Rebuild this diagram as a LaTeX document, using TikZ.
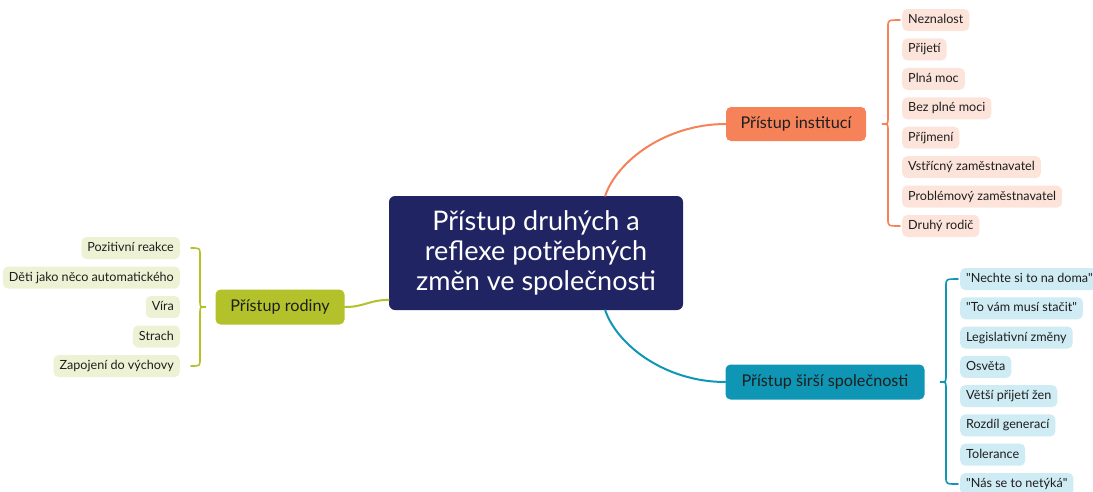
\documentclass[tikz,border=0pt]{standalone}
\usepackage{fontspec}
\setmainfont{Lato}
\usetikzlibrary{calc}
\definecolor{navy}{HTML}{202462}
\definecolor{orng}{HTML}{F6825A}
\definecolor{teal2}{HTML}{0E96B4}
\definecolor{olive}{HTML}{B3C22A}
\definecolor{lpink}{HTML}{FDE4DB}
\definecolor{lblue}{HTML}{CFEBF3}
\definecolor{lgreen}{HTML}{EEF2D5}
\definecolor{txt}{HTML}{1E1E1E}
\newcommand{\q}{\textquotedbl}
\begin{document}
\begin{tikzpicture}[x=1pt,y=-1pt,
  leaf/.style={rounded corners=5pt, inner xsep=6pt, inner ysep=0pt, minimum height=22pt,
    font=\fontsize{12.6}{14}\selectfont, text=txt, text height=9pt, text depth=2pt},
  branch/.style={rounded corners=5pt, inner sep=0pt, font=\fontsize{16.2}{19}\selectfont, text=txt,
    text height=12pt, text depth=4pt},
  conn/.style={line width=2pt, line cap=round},
  brc/.style={line width=1.6pt, line cap=round}
]
\useasboundingbox (0,0) rectangle (1093,491);
\node[fill=navy, rounded corners=6pt, minimum width=294pt, minimum height=114pt, inner sep=0pt,
  text=white, align=center, font=\fontsize{27}{30}\selectfont] (root) at (536,253)
  {Přístup druhých a\\reflexe potřebných\\změn ve společnosti};

\node[branch, fill=orng, minimum width=140pt, minimum height=34pt] (inst) at (796,124) {Přístup institucí};
\node[branch, fill=teal2, minimum width=199pt, minimum height=35pt] (soc) at (825,382) {Přístup širší společnosti};
\node[branch, fill=olive, minimum width=129pt, minimum height=35pt] (fam) at (280,307) {Přístup rodiny};

% institution leaves
\foreach \t [count=\i] in {Neznalost,Přijetí,Plná moc,Bez plné moci,Příjmení,Vstřícný zaměstnavatel,Problémový zaměstnavatel,Druhý rodič}
  \node[leaf, fill=lpink, anchor=west] (i\i) at (902,{20+(\i-1)*29.43}) {\t};
% society leaves
\foreach \t [count=\i] in {\q Nechte si to na doma\q,\q To vám musí stačit\q,Legislativní změny,Osvěta,Větší přijetí žen,Rozdíl generací,Tolerance,\q Nás se to netýká\q}
  \node[leaf, fill=lblue, anchor=west] (s\i) at (960,{279+(\i-1)*29.29}) {\t};
% family leaves
\foreach \t [count=\i] in {Pozitivní reakce,Děti jako něco automatického,Víra,Strach,Zapojení do výchovy}
  \node[leaf, fill=lgreen, anchor=east] (f\i) at (180,{248+(\i-1)*29.5}) {\t};

% connectors
\coordinate (rt) at ($(root.north west)!0.735!(root.north east)$);
\coordinate (rb) at ($(root.south west)!0.735!(root.south east)$);
\coordinate (rl) at ($(root.north west)!0.91!(root.south west)$);
\draw[conn, orng] (rt) .. controls ($(rt)+(12,-35)$) and ($(inst.west)+(-60,0)$) .. (inst.west);
\draw[conn, teal2] (rb) .. controls ($(rb)+(12,35)$) and ($(soc.west)+(-60,0)$) .. (soc.west);
\draw[conn, olive] (rl) .. controls ($(rl)+(-20,0)$) and ($(fam.east)+(20,0)$) .. (fam.east);

% braces
\coordinate (ia) at ($(i1.west)+(-14,0)$);
\coordinate (ib) at ($(i8.west)+(-14,0)$);
\draw[brc, orng] ($(i1.west)+(-2,0)$) .. controls (ia) .. ($(ia)+(0,7)$)
  -- ($(ia|-inst)+(0,-6)$) .. controls ($(ia|-inst)$) .. ($(ia|-inst)+(-6,0)$)
  .. controls ($(ia|-inst)$) .. ($(ia|-inst)+(0,6)$) -- ($(ib)+(0,-7)$)
  .. controls (ib) .. ($(i8.west)+(-2,0)$);
\coordinate (sa) at ($(s1.west)+(-14,0)$);
\coordinate (sb) at ($(s8.west)+(-14,0)$);
\draw[brc, teal2] ($(s1.west)+(-2,0)$) .. controls (sa) .. ($(sa)+(0,7)$)
  -- ($(sa|-soc)+(0,-6)$) .. controls ($(sa|-soc)$) .. ($(sa|-soc)+(-6,0)$)
  .. controls ($(sa|-soc)$) .. ($(sa|-soc)+(0,6)$) -- ($(sb)+(0,-7)$)
  .. controls (sb) .. ($(s8.west)+(-2,0)$);
\coordinate (fa) at (200,248);
\coordinate (fb) at (200,366);
\draw[brc, olive] (191,248) .. controls (fa) .. ($(fa)+(0,7)$)
  -- ($(fa|-fam)+(0,-6)$) .. controls ($(fa|-fam)$) .. ($(fa|-fam)+(6,0)$)
  .. controls ($(fa|-fam)$) .. ($(fa|-fam)+(0,6)$) -- ($(fb)+(0,-7)$)
  .. controls (fb) .. (191,366);
\end{tikzpicture}
\end{document}
